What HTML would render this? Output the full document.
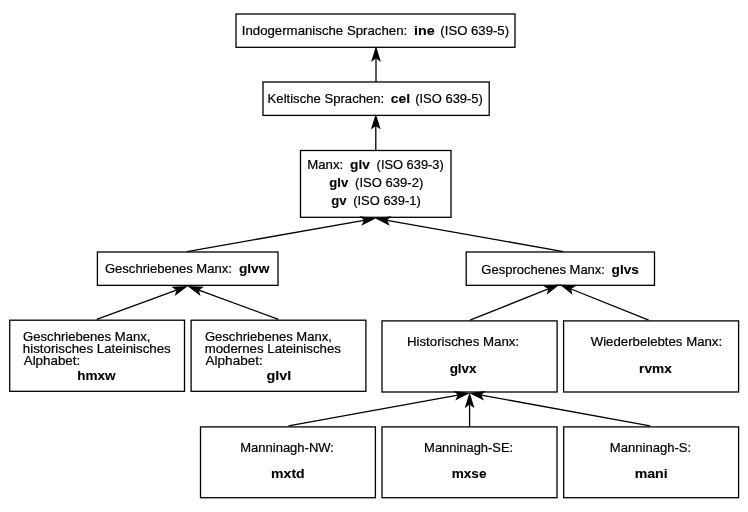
<!DOCTYPE html>
<html><head><meta charset="utf-8"><style>
html,body{margin:0;padding:0;background:#fff;width:748px;height:512px;overflow:hidden}
svg{display:block;will-change:transform}
text{font-family:"Liberation Sans",sans-serif;fill:#000;stroke:#000;stroke-width:0.2px}
text[font-weight]{stroke-width:0.1px}
</style></head><body>
<svg width="748" height="512" viewBox="0 0 748 512">
<rect width="748" height="512" fill="#fff"/>
<rect x="236" y="14" width="279.00" height="33.30" fill="none" stroke="#000" stroke-width="1.3"/>
<rect x="263" y="82" width="226.20" height="33.40" fill="none" stroke="#000" stroke-width="1.3"/>
<rect x="300.5" y="150.5" width="150.50" height="66.80" fill="none" stroke="#000" stroke-width="1.3"/>
<rect x="97.4" y="252" width="180.60" height="33.35" fill="none" stroke="#000" stroke-width="1.3"/>
<rect x="466.2" y="252" width="188.30" height="33.30" fill="none" stroke="#000" stroke-width="1.3"/>
<rect x="9.7" y="320.2" width="174.80" height="71.10" fill="none" stroke="#000" stroke-width="1.3"/>
<rect x="191.1" y="320.2" width="174.80" height="71.10" fill="none" stroke="#000" stroke-width="1.3"/>
<rect x="382" y="320.9" width="175.10" height="71.10" fill="none" stroke="#000" stroke-width="1.3"/>
<rect x="563.6" y="320.9" width="175.00" height="71.10" fill="none" stroke="#000" stroke-width="1.3"/>
<rect x="200.5" y="426.9" width="174.90" height="70.80" fill="none" stroke="#000" stroke-width="1.3"/>
<rect x="382" y="426.9" width="175.00" height="70.80" fill="none" stroke="#000" stroke-width="1.3"/>
<rect x="563.7" y="426.9" width="174.90" height="70.80" fill="none" stroke="#000" stroke-width="1.3"/>
<line x1="376.00" y1="82.00" x2="376.00" y2="58.30" stroke="#000" stroke-width="1.3"/><polygon points="376.00,46.00 371.10,61.90 376.00,58.30 380.90,61.90" fill="#000"/>
<line x1="375.80" y1="150.50" x2="375.80" y2="126.00" stroke="#000" stroke-width="1.3"/><polygon points="375.80,113.70 370.90,129.60 375.80,126.00 380.70,129.60" fill="#000"/>
<line x1="187.00" y1="251.60" x2="363.99" y2="220.34" stroke="#000" stroke-width="1.3"/><polygon points="376.10,218.20 359.59,216.14 363.99,220.34 361.29,225.79" fill="#000"/>
<line x1="563.40" y1="251.60" x2="387.11" y2="220.35" stroke="#000" stroke-width="1.3"/><polygon points="375.00,218.20 389.80,225.80 387.11,220.35 391.51,216.15" fill="#000"/>
<line x1="96.70" y1="319.40" x2="176.45" y2="290.14" stroke="#000" stroke-width="1.3"/><polygon points="188.00,285.90 171.39,286.78 176.45,290.14 174.76,295.98" fill="#000"/>
<line x1="278.40" y1="319.40" x2="198.84" y2="290.15" stroke="#000" stroke-width="1.3"/><polygon points="187.30,285.90 200.53,295.99 198.84,290.15 203.91,286.79" fill="#000"/>
<line x1="470.00" y1="320.20" x2="548.28" y2="288.96" stroke="#000" stroke-width="1.3"/><polygon points="559.70,284.40 543.12,285.74 548.28,288.96 546.75,294.84" fill="#000"/>
<line x1="648.70" y1="320.20" x2="571.01" y2="288.99" stroke="#000" stroke-width="1.3"/><polygon points="559.60,284.40 572.53,294.87 571.01,288.99 576.18,285.78" fill="#000"/>
<line x1="288.50" y1="425.90" x2="457.90" y2="395.10" stroke="#000" stroke-width="1.3"/><polygon points="470.00,392.90 453.48,390.92 457.90,395.10 455.23,400.57" fill="#000"/>
<line x1="469.60" y1="426.90" x2="469.60" y2="404.60" stroke="#000" stroke-width="1.3"/><polygon points="469.60,392.30 464.70,408.20 469.60,404.60 474.50,408.20" fill="#000"/>
<line x1="650.00" y1="425.90" x2="481.30" y2="395.11" stroke="#000" stroke-width="1.3"/><polygon points="469.20,392.90 483.96,400.58 481.30,395.11 485.72,390.93" fill="#000"/>
<text x="241.78" y="35.30" textLength="165.42" lengthAdjust="spacingAndGlyphs" font-size="12.4">Indogermanische Sprachen:</text>
<text x="414.00" y="35.30" textLength="20.69" lengthAdjust="spacingAndGlyphs" font-size="12.4" font-weight="bold">ine</text>
<text x="440.39" y="35.30" textLength="68.63" lengthAdjust="spacingAndGlyphs" font-size="12.4">(ISO 639-5)</text>
<text x="267.63" y="103.30" textLength="116.57" lengthAdjust="spacingAndGlyphs" font-size="12.4">Keltische Sprachen:</text>
<text x="390.65" y="103.30" textLength="19.44" lengthAdjust="spacingAndGlyphs" font-size="12.4" font-weight="bold">cel</text>
<text x="415.20" y="103.30" textLength="67.71" lengthAdjust="spacingAndGlyphs" font-size="12.4">(ISO 639-5)</text>
<text x="307.32" y="169.30" textLength="35.88" lengthAdjust="spacingAndGlyphs" font-size="12.4">Manx:</text>
<text x="350.14" y="169.30" textLength="19.81" lengthAdjust="spacingAndGlyphs" font-size="12.4" font-weight="bold">glv</text>
<text x="376.60" y="169.30" textLength="67.20" lengthAdjust="spacingAndGlyphs" font-size="12.4">(ISO 639-3)</text>
<text x="329.36" y="187.00" textLength="18.89" lengthAdjust="spacingAndGlyphs" font-size="12.4" font-weight="bold">glv</text>
<text x="355.09" y="187.00" textLength="68.22" lengthAdjust="spacingAndGlyphs" font-size="12.4">(ISO 639-2)</text>
<text x="331.26" y="204.80" textLength="15.39" lengthAdjust="spacingAndGlyphs" font-size="12.4" font-weight="bold">gv</text>
<text x="353.20" y="204.80" textLength="67.61" lengthAdjust="spacingAndGlyphs" font-size="12.4">(ISO 639-1)</text>
<text x="104.95" y="273.30" textLength="126.94" lengthAdjust="spacingAndGlyphs" font-size="12.4">Geschriebenes Manx:</text>
<text x="238.94" y="273.30" textLength="30.43" lengthAdjust="spacingAndGlyphs" font-size="12.4" font-weight="bold">glvw</text>
<text x="481.35" y="273.60" textLength="123.63" lengthAdjust="spacingAndGlyphs" font-size="12.4">Gesprochenes Manx:</text>
<text x="611.64" y="273.60" textLength="27.22" lengthAdjust="spacingAndGlyphs" font-size="12.4" font-weight="bold">glvs</text>
<text x="23.10" y="341.30" textLength="127.28" lengthAdjust="spacingAndGlyphs" font-size="12.4">Geschriebenes Manx,</text>
<text x="22.83" y="353.05" textLength="147.94" lengthAdjust="spacingAndGlyphs" font-size="12.4">historisches Lateinisches</text>
<text x="23.72" y="364.90" textLength="56.49" lengthAdjust="spacingAndGlyphs" font-size="12.4">Alphabet:</text>
<text x="77.15" y="379.70" textLength="38.32" lengthAdjust="spacingAndGlyphs" font-size="12.4" font-weight="bold">hmxw</text>
<text x="204.95" y="341.30" textLength="126.93" lengthAdjust="spacingAndGlyphs" font-size="12.4">Geschriebenes Manx,</text>
<text x="204.73" y="353.05" textLength="136.15" lengthAdjust="spacingAndGlyphs" font-size="12.4">modernes Lateinisches</text>
<text x="205.57" y="364.90" textLength="57.15" lengthAdjust="spacingAndGlyphs" font-size="12.4">Alphabet:</text>
<text x="266.51" y="379.70" textLength="24.81" lengthAdjust="spacingAndGlyphs" font-size="12.4" font-weight="bold">glvl</text>
<text x="406.91" y="346.00" textLength="112.30" lengthAdjust="spacingAndGlyphs" font-size="12.4">Historisches Manx:</text>
<text x="449.65" y="373.20" textLength="26.96" lengthAdjust="spacingAndGlyphs" font-size="12.4" font-weight="bold">glvx</text>
<text x="590.73" y="346.00" textLength="131.37" lengthAdjust="spacingAndGlyphs" font-size="12.4">Wiederbelebtes Manx:</text>
<text x="639.10" y="373.20" textLength="32.72" lengthAdjust="spacingAndGlyphs" font-size="12.4" font-weight="bold">rvmx</text>
<text x="240.23" y="451.90" textLength="93.75" lengthAdjust="spacingAndGlyphs" font-size="12.4">Manninagh-NW:</text>
<text x="271.07" y="478.30" textLength="33.66" lengthAdjust="spacingAndGlyphs" font-size="12.4" font-weight="bold">mxtd</text>
<text x="424.14" y="451.90" textLength="89.04" lengthAdjust="spacingAndGlyphs" font-size="12.4">Manninagh-SE:</text>
<text x="451.70" y="478.30" textLength="34.77" lengthAdjust="spacingAndGlyphs" font-size="12.4" font-weight="bold">mxse</text>
<text x="609.83" y="451.90" textLength="81.36" lengthAdjust="spacingAndGlyphs" font-size="12.4">Manninagh-S:</text>
<text x="634.67" y="478.30" textLength="33.04" lengthAdjust="spacingAndGlyphs" font-size="12.4" font-weight="bold">mani</text>
</svg>
</body></html>
